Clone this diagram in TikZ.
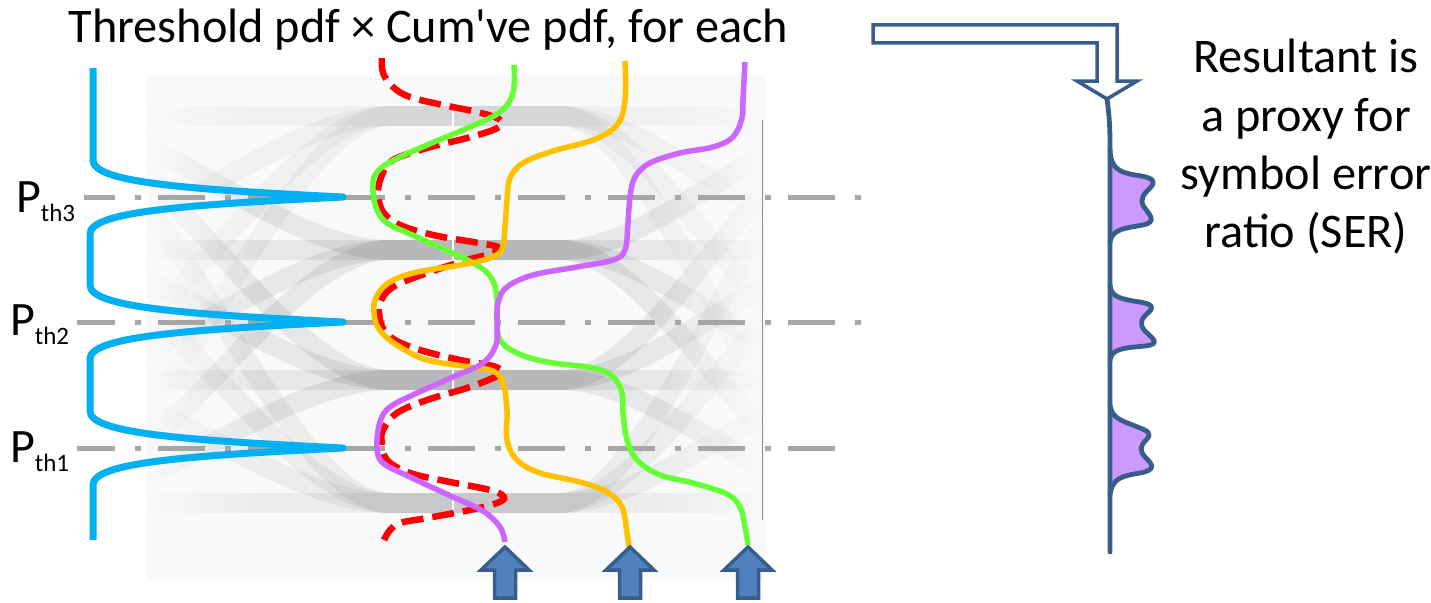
\documentclass[tikz,border=0pt]{standalone}
\usepackage{fontspec}
\newfontfamily\calfont{Carlito}
\definecolor{cyanc}{RGB}{0,176,240}
\definecolor{greenc}{RGB}{102,255,51}
\definecolor{orangec}{RGB}{255,192,0}
\definecolor{purplec}{RGB}{204,102,255}
\definecolor{redc}{RGB}{255,0,0}
\definecolor{dashgray}{RGB}{166,166,166}
\definecolor{arrowfill}{RGB}{79,129,189}
\definecolor{arrowline}{RGB}{56,93,138}
\definecolor{serfill}{RGB}{204,153,255}
\definecolor{eyebg}{RGB}{248,249,251}
\tikzset{
  thr/.style={dashgray, line width=5pt, dash pattern=on 47pt off 20pt on 6pt off 17pt},
  pdfcurve/.style={cyanc, line width=7pt, line join=round},
  cdf/.style={line width=5.5pt},
  prod/.style={redc, line width=6.5pt, dash pattern=on 22pt off 9pt},
  uparrow/.style={fill=arrowfill, draw=arrowline, line width=3.5pt, line join=miter},
  bentarrow/.style={fill=white, draw=arrowline, line width=3.5pt, line join=miter},
  band/.style={black, line width=20pt},
  serline/.style={draw=arrowline, line width=4.8pt, line join=round, line cap=round},
  lbl/.style={font=\calfont\fontsize{48.3}{58}\selectfont, inner sep=0pt},
  sublbl/.style={font=\calfont, inner sep=0pt},
}
\newcommand{\Plabel}[1]{{\fontsize{48}{48}\selectfont P}\raisebox{-9pt}{\fontsize{25}{25}\selectfont th#1}}
\begin{document}
\begin{tikzpicture}[x=1pt,y=-1pt]
\useasboundingbox (0,0) rectangle (1431,602);

% eye diagram background
\begin{scope}
  \clip (147,75) rectangle (765,580);
  \fill[eyebg] (147,75) rectangle (765,580);
  \foreach \a/\oa in {116/0.035,250/0.07,380/0.07,503/0.05}{
    \foreach \b/\ob in {116/0.035,250/0.07,380/0.07,503/0.05}{
      \draw[band, opacity=\ob] (40,\a) .. controls (150,\a) and (280,\b) .. (390,\b) -- (470,\b);
      \draw[band, opacity=\oa] (470,\a) -- (560,\a) .. controls (660,\a) and (770,\b) .. (880,\b);
    }
  }
  % edge fades as stepped strips
  \foreach \i in {0,...,29}{
    \pgfmathsetmacro\op{(1-\i/30)^1.3}
    \fill[eyebg, opacity=\op] (147+\i*4,75) rectangle (151.3+\i*4,580);
  }
  \foreach \i in {0,...,29}{
    \pgfmathsetmacro\op{(1-\i/30)^1.3}
    \fill[eyebg, opacity=\op] (765-\i*4,75) rectangle (760.7-\i*4,580);
  }
\end{scope}
\draw[white, line width=1.5pt, opacity=0.9] (453,105) -- (453,520);
\draw[black!45, line width=1pt] (762,120) -- (762,520);

% threshold lines
\draw[thr, dash phase=16pt] (84,197) -- (861,197);
\draw[thr, dash phase=9pt] (77,322) -- (861,322);
\draw[thr, dash phase=9pt] (77,448) -- (835,448);

% threshold pdf
\draw[pdfcurve] (93,68) -- (93,160)
  .. controls (93,182) and (180,189) .. (343,197)
  .. controls (180,205) and (90,212) .. (90,234) -- (90,285)
  .. controls (90,307) and (180,314) .. (343,322)
  .. controls (180,330) and (90,337) .. (90,359) -- (90,411)
  .. controls (90,433) and (180,440) .. (343,448)
  .. controls (180,456) and (93,463) .. (93,485) -- (93,540);

% product (red dashed)
\draw[prod] plot[smooth, tension=0.6] coordinates {(382,58) (383,73) (393,87) (410,97) (443,105) (477,112) (497,118) (502,124) (493,130) (467,138) (427,148) (393,160) (382,175) (378,193) (383,212) (400,225) (433,235) (473,242) (498,247) (493,253) (467,260) (427,273) (393,287) (380,303) (380,320) (384,330) (395,340) (420,350) (460,360) (493,366) (502,372) (493,378) (467,388) (427,400) (397,413) (383,430) (382,443) (387,460) (410,473) (450,482) (490,490) (504,497) (497,503) (470,510) (427,518) (400,523) (390,530) (384,540)};

% cumulative pdfs
\draw[cdf, greenc] plot[smooth, tension=0.6] coordinates {(514,65) (513,93) (500,112) (470,127) (427,145) (390,162) (375,175) (373,192) (377,210) (387,223) (410,234) (450,252) (480,267) (493,281) (497,300) (497,320) (500,340) (517,353) (547,362) (593,368) (613,377) (622,393) (623,413) (627,440) (637,460) (660,475) (693,483) (727,494) (740,507) (745,527) (748,545)};
\draw[cdf, orangec] plot[smooth, tension=0.6] coordinates {(625,61) (625,100) (617,125) (593,140) (553,151) (523,163) (510,178) (507,200) (505,227) (502,249) (490,258) (460,265) (413,273) (387,284) (375,300) (375,320) (383,334) (400,347) (427,360) (470,367) (493,371) (503,383) (507,410) (507,440) (517,460) (540,473) (580,482) (607,492) (622,507) (627,533) (629,547)};
\draw[cdf, purplec] plot[smooth, tension=0.6] coordinates {(745,62) (743,100) (742,118) (733,137) (713,147) (680,153) (650,163) (635,177) (630,197) (628,223) (625,250) (613,260) (577,267) (533,275) (507,287) (498,303) (497,327) (496,345) (483,363) (453,377) (417,393) (390,407) (380,422) (377,447) (383,463) (410,477) (453,497) (483,511) (500,527) (505,542)};

% block up arrows
\foreach \cx in {505,630,748}{
  \draw[uparrow] (\cx,547) -- (\cx+24,570) -- (\cx+10.5,570) -- (\cx+10.5,598)
    -- (\cx-10.5,598) -- (\cx-10.5,570) -- (\cx-24,570) -- cycle;
}

% bent hollow arrow
\draw[bentarrow] (873,25) -- (1117,25) -- (1117,81) -- (1137,81) -- (1107,99)
  -- (1077,81) -- (1097,81) -- (1097,43) -- (873,43) -- cycle;

% SER curve
\fill[serfill] (1110,150) .. controls (1111,168) and (1118,172) .. (1135,175)
  .. controls (1150,177) and (1158,180) .. (1150,188)
  .. controls (1144,194) and (1139,199) .. (1144,207)
  .. controls (1149,214) and (1158,222) .. (1143,225)
  .. controls (1128,228) and (1112,228) .. (1110,242) -- cycle;
\fill[serfill] (1110,285) .. controls (1111,296) and (1118,298) .. (1133,301)
  .. controls (1148,303) and (1156,305) .. (1149,312)
  .. controls (1142,318) and (1138,323) .. (1145,331)
  .. controls (1152,338) and (1162,344) .. (1145,346)
  .. controls (1125,348) and (1112,348) .. (1110,360) -- cycle;
\fill[serfill] (1110,405) .. controls (1112,418) and (1120,420) .. (1135,426)
  .. controls (1148,431) and (1153,433) .. (1146,440)
  .. controls (1140,446) and (1139,451) .. (1146,458)
  .. controls (1152,464) and (1157,470) .. (1140,473)
  .. controls (1122,476) and (1112,478) .. (1110,495) -- cycle;
\draw[serline] (1107,99) .. controls (1110,120) and (1110,135) .. (1110,150) -- (1110,552);
\draw[serline] (1110,150) .. controls (1111,168) and (1118,172) .. (1135,175)
  .. controls (1150,177) and (1158,180) .. (1150,188)
  .. controls (1144,194) and (1139,199) .. (1144,207)
  .. controls (1149,214) and (1158,222) .. (1143,225)
  .. controls (1128,228) and (1112,228) .. (1110,242);
\draw[serline] (1110,285) .. controls (1111,296) and (1118,298) .. (1133,301)
  .. controls (1148,303) and (1156,305) .. (1149,312)
  .. controls (1142,318) and (1138,323) .. (1145,331)
  .. controls (1152,338) and (1162,344) .. (1145,346)
  .. controls (1125,348) and (1112,348) .. (1110,360);
\draw[serline] (1110,405) .. controls (1112,418) and (1120,420) .. (1135,426)
  .. controls (1148,431) and (1153,433) .. (1146,440)
  .. controls (1140,446) and (1139,451) .. (1146,458)
  .. controls (1152,464) and (1157,470) .. (1140,473)
  .. controls (1122,476) and (1112,478) .. (1110,495);

% texts
\node[lbl, anchor=base] (title) at (428.5,42) {Threshold pdf × Cum've pdf, for each};
\node[lbl, anchor=base] (res1) at (1306,73) {Resultant is};
\node[lbl, anchor=base] (res2) at (1306,131) {a proxy for};
\node[lbl, anchor=base] (res3) at (1306,189) {symbol error};
\node[lbl, anchor=base] (res4) at (1306,247) {ratio (SER)};
\node[sublbl, anchor=base west] (p3) at (16,212) {\Plabel{3}};
\node[sublbl, anchor=base west] (p2) at (10,335) {\Plabel{2}};
\node[sublbl, anchor=base west] (p1) at (10,462) {\Plabel{1}};
\end{tikzpicture}
\end{document}
